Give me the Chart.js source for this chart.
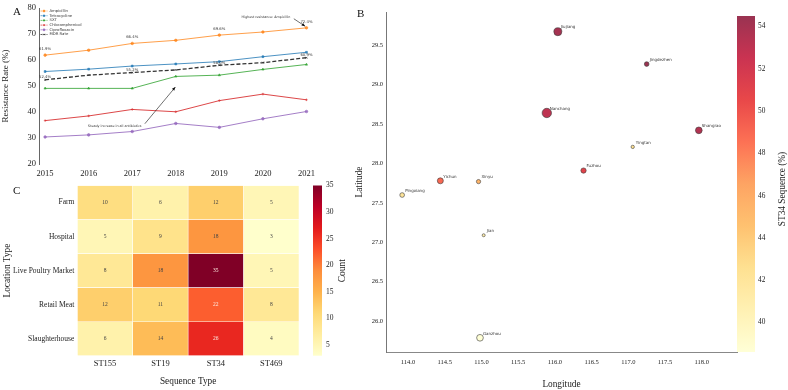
<!DOCTYPE html>
<html>
<head>
<meta charset="utf-8">
<script src="https://cdn.jsdelivr.net/npm/chart.js@4.4.1/dist/chart.umd.min.js"></script>
<style>
  body { margin: 0; background: #fff; width: 788px; height: 390px; position: relative; overflow: hidden; }
  canvas { position: absolute; }
  .tag { position: absolute; font-family: "Liberation Serif", serif; font-size: 11px; color: #111; }
</style>
</head>
<body>
<canvas id="lineChart" width="340" height="182" style="left:0;top:0"></canvas>
<canvas id="heatChart" width="370" height="212" style="left:0;top:178px"></canvas>
<canvas id="mapChart" width="448" height="390" style="left:340px;top:0"></canvas>
<div class="tag" style="left:13px;top:5px">A</div>
<div class="tag" style="left:357px;top:7px">B</div>
<div class="tag" style="left:13px;top:184px">C</div>
<script>
// ---- Panel A: resistance rates by year
var years = [2015, 2016, 2017, 2018, 2019, 2020, 2021];
var ampicillin = [61.9, 63.8, 66.4, 67.6, 69.6, 70.8, 72.4];
var tetracycline = [55.6, 56.5, 57.7, 58.5, 59.4, 61.3, 63.0];
var sxt = [49.1, 49.1, 49.1, 53.7, 54.2, 56.4, 58.3];
var chloramphenicol = [36.7, 38.5, 41.0, 40.1, 44.4, 46.9, 44.7];
var ciprofloxacin = [30.4, 31.2, 32.5, 35.6, 34.1, 37.4, 40.2];
var mdrRate = [52.4, 54.2, 55.2, 56.2, 58.0, 59.0, 60.9];
var rateTicks = [20, 30, 40, 50, 60, 70, 80];

// ---- Panel C: isolates per location and sequence type
var sequenceTypes = ['ST155', 'ST19', 'ST34', 'ST469'];
var locations = ['Farm', 'Hospital', 'Live Poultry Market', 'Retail Meat', 'Slaughterhouse'];
var farmCounts = [10, 6, 12, 5];
var hospitalCounts = [5, 9, 18, 3];
var poultryMarketCounts = [8, 18, 35, 5];
var retailMeatCounts = [12, 11, 22, 8];
var slaughterhouseCounts = [6, 14, 26, 4];
var countTicks = [5, 10, 15, 20, 25, 30, 35];

// ---- Panel B: cities
var cities = ['Nanchang', 'Jiujiang', 'Jingdezhen', 'Shangrao', 'Yingtan', 'Fuzhou', 'Yichun', 'Xinyu', 'Pingxiang', 'Jian', 'Ganzhou'];
var longitudes = [115.89, 116.04, 117.25, 117.96, 117.06, 116.39, 114.44, 114.96, 113.92, 115.03, 114.98];
var latitudes = [28.64, 29.67, 29.26, 28.42, 28.21, 27.91, 27.78, 27.77, 27.60, 27.09, 25.79];
var isolates = [88, 64, 22, 45, 11, 28, 36, 18, 22, 9, 45];
var st34Share = [53.0, 54.0, 54.5, 53.5, 42.5, 51.0, 49.0, 45.5, 42.0, 41.0, 38.6];
var lonTicks = [114.0, 114.5, 115.0, 115.5, 116.0, 116.5, 117.0, 117.5, 118.0];
var latTicks = [26.0, 26.5, 27.0, 27.5, 28.0, 28.5, 29.0, 29.5];
var shareTicks = [40, 42, 44, 46, 48, 50, 52, 54];

var SERIF = '"Liberation Serif", "Times New Roman", serif';
var SANS = '"DejaVu Sans", sans-serif';

// YlOrRd colour map
var ylOrRd = ['#ffffcc', '#ffeda0', '#fed976', '#feb24c', '#fd8d3c', '#fc4e2a', '#e31a1c', '#bd0026', '#800026'].map(function (h) {
  return [parseInt(h.slice(1, 3), 16), parseInt(h.slice(3, 5), 16), parseInt(h.slice(5, 7), 16)];
});
function ylOrRdColor(t, alpha) {
  t = Math.max(0, Math.min(1, t));
  var p = t * (ylOrRd.length - 1);
  var i = Math.min(Math.floor(p), ylOrRd.length - 2);
  var f = p - i;
  var c = ylOrRd[i].map(function (v, k) { return Math.round(v + (ylOrRd[i + 1][k] - v) * f); });
  return 'rgba(' + c[0] + ',' + c[1] + ',' + c[2] + ',' + alpha + ')';
}

function arrow(ctx, x1, y1, x2, y2) {
  ctx.beginPath(); ctx.moveTo(x1, y1); ctx.lineTo(x2, y2); ctx.stroke();
  var a = Math.atan2(y2 - y1, x2 - x1), L = 3.5, W = 1.5;
  ctx.beginPath();
  ctx.moveTo(x2, y2);
  ctx.lineTo(x2 - L * Math.cos(a) + W * Math.sin(a), y2 - L * Math.sin(a) - W * Math.cos(a));
  ctx.lineTo(x2 - L * Math.cos(a) - W * Math.sin(a), y2 - L * Math.sin(a) + W * Math.cos(a));
  ctx.closePath(); ctx.fill();
}

// ================= Panel A =================
var lineSeries = [
  { label: 'Ampicillin', data: ampicillin, color: 'rgba(255,127,14,0.75)', style: 'circle' },
  { label: 'Tetracycline', data: tetracycline, color: 'rgba(31,119,180,0.8)', style: 'rect' },
  { label: 'SXT', data: sxt, color: 'rgba(44,160,44,0.8)', style: 'triangle' },
  { label: 'Chloramphenicol', data: chloramphenicol, color: 'rgba(214,39,40,0.85)', style: 'cross' },
  { label: 'Ciprofloxacin', data: ciprofloxacin, color: 'rgba(148,103,189,0.85)', style: 'circle' },
  { label: 'MDR Rate', data: mdrRate, color: '#333333', style: 'crossRot', dash: [4, 2] }
];

var legendA = {
  id: 'legendA',
  afterDraw: function (chart) {
    var ctx = chart.ctx, area = chart.chartArea;
    ctx.save();
    ctx.font = '3.8px ' + SANS;
    ctx.textBaseline = 'middle';
    chart.data.datasets.forEach(function (ds, i) {
      var y = 11 + i * 4.7, x0 = area.left + 1.5;
      ctx.strokeStyle = ds.borderColor;
      ctx.lineWidth = 0.8;
      ctx.setLineDash(ds.borderDash ? [2, 1] : []);
      ctx.beginPath(); ctx.moveTo(x0, y); ctx.lineTo(x0 + 7, y); ctx.stroke();
      ctx.setLineDash([]);
      ctx.fillStyle = ds.borderColor;
      Chart.helpers.drawPoint(ctx, { pointStyle: ds.pointStyle, radius: 1, borderWidth: 0.6, rotation: 0 }, x0 + 3.5, y);
      ctx.fillStyle = '#333';
      ctx.fillText(ds.label, x0 + 9, y);
    });
    ctx.restore();
  }
};

var labelsA = {
  id: 'labelsA',
  afterDatasetsDraw: function (chart) {
    var ctx = chart.ctx, xs = chart.scales.x, ys = chart.scales.y;
    ctx.save();
    ctx.fillStyle = '#333';
    ctx.strokeStyle = '#111';
    ctx.lineWidth = 0.6;
    ctx.font = '3.8px ' + SANS;
    ctx.textAlign = 'center';
    ctx.textBaseline = 'middle';
    [0, 2, 4, 6].forEach(function (i) {
      ctx.fillText(ampicillin[i].toFixed(1) + '%', xs.getPixelForValue(years[i]), ys.getPixelForValue(ampicillin[i]) - 6);
      ctx.fillText(mdrRate[i].toFixed(1) + '%', xs.getPixelForValue(years[i]), ys.getPixelForValue(mdrRate[i]) - 2.5);
    });
    // annotations
    ctx.font = '3.3px ' + SANS;
    ctx.fillText('Steady increase in all antibiotics', xs.getPixelForValue(2016.6), ys.getPixelForValue(34.4));
    ctx.fillStyle = '#111';
    arrow(ctx, xs.getPixelForValue(2017.29), ys.getPixelForValue(35.5), xs.getPixelForValue(2017.99), ys.getPixelForValue(49.6));
    ctx.fillStyle = '#333';
    ctx.fillText('Highest resistance: Ampicillin', xs.getPixelForValue(2020.07), ys.getPixelForValue(76.6));
    ctx.fillStyle = '#111';
    arrow(ctx, xs.getPixelForValue(2020.71), ys.getPixelForValue(75.9), xs.getPixelForValue(2020.97), ys.getPixelForValue(73.0));
    ctx.restore();
  }
};

new Chart(document.getElementById('lineChart'), {
  type: 'line',
  data: {
    datasets: lineSeries.map(function (s) {
      return {
        label: s.label,
        data: s.data.map(function (v, i) { return { x: years[i], y: v }; }),
        borderColor: s.color,
        backgroundColor: s.color,
        borderWidth: s.dash ? 1.3 : 1,
        borderDash: s.dash || [],
        pointStyle: s.style,
        pointRadius: 1.3,
        pointBorderWidth: 0.7,
        tension: 0
      };
    })
  },
  options: {
    responsive: false,
    animation: false,
    layout: { padding: { left: 0, top: 0, right: 27, bottom: 0 } },
    plugins: { legend: { display: false }, tooltip: { enabled: false } },
    scales: {
      x: {
        type: 'linear', min: 2014.86, max: 2021.15,
        afterBuildTicks: function (s) { s.ticks = years.map(function (v) { return { value: v }; }); },
        afterFit: function (s) { s.height = 18; },
        grid: { display: false, drawTicks: false },
        border: { display: false },
        ticks: { autoSkip: false, maxRotation: 0, padding: 5, color: '#222', font: { family: SERIF, size: 8.5 },
          callback: function (v) { return String(v); } }
      },
      y: {
        min: 20, max: 80,
        afterBuildTicks: function (s) { s.ticks = rateTicks.map(function (v) { return { value: v }; }); },
        afterFit: function (s) { s.width = 39; },
        grid: { display: false, drawTicks: false },
        border: { display: true, color: '#666', width: 1 },
        ticks: { padding: 3, color: '#222', font: { family: SERIF, size: 8.5 } },
        title: { display: true, text: 'Resistance Rate (%)', color: '#222', padding: 0, font: { family: SERIF, size: 9 } }
      }
    }
  },
  plugins: [legendA, labelsA]
});

// ================= Panel C =================
var countRows = [farmCounts, hospitalCounts, poultryMarketCounts, retailMeatCounts, slaughterhouseCounts];
var countMin = Math.min.apply(null, [].concat.apply([], countRows));
var countMax = Math.max.apply(null, [].concat.apply([], countRows));
function countColor(v) { return ylOrRdColor((v - countMin) / (countMax - countMin), 1); }

var cellText = {
  id: 'cellText',
  afterDatasetsDraw: function (chart) {
    var ctx = chart.ctx;
    ctx.save();
    ctx.font = '5.5px ' + SERIF;
    ctx.textAlign = 'center';
    ctx.textBaseline = 'middle';
    countRows.forEach(function (row, i) {
      chart.getDatasetMeta(i).data.forEach(function (el, j) {
        ctx.fillStyle = row[j] >= 20 ? '#fbe9e0' : '#444';
        ctx.fillText(String(row[j]), el.x, (el.y + el.base) / 2);
      });
    });
    ctx.restore();
  }
};

var colorbarC = {
  id: 'colorbarC',
  afterDraw: function (chart) {
    var ctx = chart.ctx, area = chart.chartArea;
    var x0 = 313, w = 9, top = area.top, bot = area.bottom;
    ctx.save();
    var g = ctx.createLinearGradient(0, bot, 0, top);
    for (var k = 0; k <= 16; k++) g.addColorStop(k / 16, ylOrRdColor(k / 16, 1));
    ctx.fillStyle = g;
    ctx.fillRect(x0, top, w, bot - top);
    ctx.fillStyle = '#222';
    ctx.font = '7.5px ' + SERIF;
    ctx.textBaseline = 'middle';
    countTicks.forEach(function (v) {
      var y = bot - (v - countMin) / (countMax - countMin) * (bot - top);
      ctx.fillText(String(v), x0 + w + 4, y);
    });
    ctx.translate(342, (top + bot) / 2);
    ctx.rotate(-Math.PI / 2);
    ctx.textAlign = 'center';
    ctx.font = '9.5px ' + SERIF;
    ctx.fillText('Count', 0, 0);
    ctx.restore();
  }
};

new Chart(document.getElementById('heatChart'), {
  type: 'bar',
  data: {
    labels: sequenceTypes,
    datasets: locations.map(function (loc, i) {
      return {
        label: loc,
        data: sequenceTypes.map(function () { return [i, i + 1]; }),
        backgroundColor: countRows[i].map(countColor),
        borderColor: 'rgba(255,255,255,0.7)',
        borderWidth: 0.6,
        borderSkipped: false,
        grouped: false,
        barPercentage: 1,
        categoryPercentage: 1
      };
    })
  },
  options: {
    responsive: false,
    animation: false,
    layout: { padding: { left: 0, top: 4.3, right: 71, bottom: 0 } },
    plugins: { legend: { display: false }, tooltip: { enabled: false } },
    scales: {
      x: {
        afterFit: function (s) { s.height = 34.3; },
        grid: { display: false, drawTicks: false },
        border: { display: false },
        ticks: { padding: 3, color: '#222', font: { family: SERIF, size: 8.5 } },
        title: { display: true, text: 'Sequence Type', color: '#222', padding: 3, font: { family: SERIF, size: 9.3 } }
      },
      y: {
        min: 0, max: 5, reverse: true,
        afterBuildTicks: function (s) { s.ticks = locations.map(function (l, i) { return { value: i + 0.5 }; }); },
        afterFit: function (s) { s.width = 77.3; },
        grid: { display: false, drawTicks: false },
        border: { display: false },
        ticks: { padding: 3, color: '#222', font: { family: SERIF, size: 7.5 },
          callback: function (v, idx) { return locations[idx]; } },
        title: { display: true, text: 'Location Type', color: '#222', padding: 2, font: { family: SERIF, size: 9.3 } }
      }
    }
  },
  plugins: [cellText, colorbarC]
});

// ================= Panel B =================
var shareMin = Math.min.apply(null, st34Share);
var shareMax = Math.max.apply(null, st34Share);
function shareColor(v) { return ylOrRdColor((v - shareMin) / (shareMax - shareMin), 0.8); }

var cityText = {
  id: 'cityText',
  afterDatasetsDraw: function (chart) {
    var ctx = chart.ctx;
    ctx.save();
    ctx.font = '4px ' + SANS;
    ctx.fillStyle = '#333';
    ctx.textBaseline = 'middle';
    chart.getDatasetMeta(0).data.forEach(function (el, i) {
      ctx.fillText(cities[i], el.x + 3, el.y - 4.3);
    });
    ctx.restore();
  }
};

var colorbarB = {
  id: 'colorbarB',
  afterDraw: function (chart) {
    var ctx = chart.ctx;
    var x0 = 397, w = 18, top = 16, bot = chart.chartArea.bottom;
    ctx.save();
    var g = ctx.createLinearGradient(0, bot, 0, top);
    for (var k = 0; k <= 16; k++) g.addColorStop(k / 16, ylOrRdColor(k / 16, 0.8));
    ctx.fillStyle = g;
    ctx.fillRect(x0, top, w, bot - top);
    ctx.fillStyle = '#222';
    ctx.font = '7.3px ' + SERIF;
    ctx.textBaseline = 'middle';
    shareTicks.forEach(function (v) {
      var y = bot - (v - shareMin) / (shareMax - shareMin) * (bot - top);
      ctx.fillText(String(v), x0 + w + 3, y);
    });
    ctx.translate(443, 189);
    ctx.rotate(-Math.PI / 2);
    ctx.textAlign = 'center';
    ctx.font = '9.3px ' + SERIF;
    ctx.fillText('ST34 Sequence (%)', 0, 0);
    ctx.restore();
  }
};

new Chart(document.getElementById('mapChart'), {
  type: 'bubble',
  data: {
    datasets: [{
      label: 'ST34 Sequence (%)',
      data: cities.map(function (c, i) {
        return { x: longitudes[i], y: latitudes[i], r: 0.5 * Math.sqrt(isolates[i]) };
      }),
      backgroundColor: st34Share.map(shareColor),
      borderColor: '#3a3a3a',
      borderWidth: 0.6,
      hoverRadius: 0
    }]
  },
  options: {
    responsive: false,
    animation: false,
    layout: { padding: { left: 0, top: 12, right: 51, bottom: 0 } },
    plugins: { legend: { display: false }, tooltip: { enabled: false } },
    scales: {
      x: {
        type: 'linear', min: 113.70, max: 118.48,
        afterBuildTicks: function (s) { s.ticks = lonTicks.map(function (v) { return { value: v }; }); },
        afterFit: function (s) { s.height = 38; },
        grid: { display: false, drawTicks: false },
        border: { display: true, color: '#888', width: 1 },
        ticks: { autoSkip: false, maxRotation: 0, padding: 6, color: '#222', font: { family: SERIF, size: 6.5 },
          callback: function (v) { return Number(v).toFixed(1); } },
        title: { display: true, text: 'Longitude', color: '#222', padding: 0, font: { family: SERIF, size: 9.3 } }
      },
      y: {
        type: 'linear', min: 25.61, max: 29.92,
        afterBuildTicks: function (s) { s.ticks = latTicks.map(function (v) { return { value: v }; }); },
        afterFit: function (s) { s.width = 46; },
        grid: { display: false, drawTicks: false },
        border: { display: true, color: '#777', width: 1 },
        ticks: { autoSkip: false, padding: 3, color: '#222', font: { family: SERIF, size: 6.5 },
          callback: function (v) { return Number(v).toFixed(1); } },
        title: { display: true, text: 'Latitude', color: '#222', padding: 14, font: { family: SERIF, size: 9.3 } }
      }
    }
  },
  plugins: [cityText, colorbarB]
});
</script>
</body>
</html>
